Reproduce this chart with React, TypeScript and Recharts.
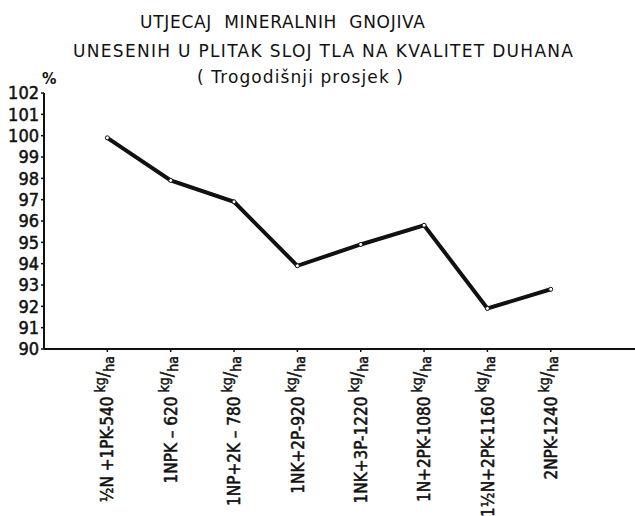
import { LineChart, Line, XAxis, YAxis } from 'recharts';

const CATEGORIES = [
  '½N +1PK-540',
  '1NPK – 620',
  '1NP+2K – 780',
  '1NK+2P-920',
  '1NK+3P-1220',
  '1N+2PK-1080',
  '1½N+2PK-1160',
  '2NPK-1240',
];
const QUALITY = [99.9, 97.9, 96.9, 93.9, 94.9, 95.8, 91.9, 92.8];
const Y_TICKS = [90, 91, 92, 93, 94, 95, 96, 97, 98, 99, 100, 101, 102];
const X_TICKS = CATEGORIES.map((_, i) => i + 1);

const TITLE_1 = 'UTJECAJ  MINERALNIH  GNOJIVA';
const TITLE_2 = 'UNESENIH U PLITAK SLOJ TLA NA KVALITET DUHANA';
const TITLE_3 = '( Trogodišnji prosjek )';

const data = CATEGORIES.map((label, i) => ({ pos: i + 1, label, value: QUALITY[i] }));

const INK = '#111111';
const NARROW = '"Liberation Sans Narrow", "DejaVu Sans Condensed", "Roboto Condensed", sans-serif';
const TITLE_FONT = '"DejaVu Sans", "Liberation Sans", sans-serif';

function CategoryTick(props: any) {
  const { x, y, payload } = props;
  const label = CATEGORIES[payload.value - 1];
  if (!label) return null;
  return (
    <g transform={`translate(${x},${y})`}>
      <text transform="rotate(-90)" textAnchor="end" dy="0.36em" x={-2}
        fill={INK} stroke={INK} strokeWidth={0.5} fontFamily={NARROW} fontSize={17}>
        {label}
        <tspan fontSize={14} dx={4} dy={-8}>kg</tspan>
        <tspan fontSize={18} dy={4}>/</tspan>
        <tspan fontSize={14} dy={5}>ha</tspan>
      </text>
    </g>
  );
}

export default function App() {
  return (
    <div style={{ position: 'absolute', left: 0, top: 0, width: 635, height: 516, background: '#fff' }}>
      <LineChart width={635} height={516} data={data} margin={{ top: 93, right: 0, bottom: 137, left: 0 }}>
        <XAxis dataKey="pos" type="number" domain={[0, 9.33]} ticks={X_TICKS} interval={0}
          tick={<CategoryTick />} tickSize={3} tickMargin={2} height={30}
          axisLine={{ stroke: INK, strokeWidth: 2 }} tickLine={{ stroke: INK, strokeWidth: 1.5 }} />
        <YAxis type="number" domain={[90, 102]} ticks={Y_TICKS} interval={0} width={44}
          tickSize={3} tickMargin={2}
          axisLine={{ stroke: INK, strokeWidth: 2 }} tickLine={{ stroke: INK, strokeWidth: 1.5 }}
          tick={{ fill: INK, stroke: INK, strokeWidth: 0.5, fontSize: 18, fontFamily: NARROW }} />
        <Line type="linear" dataKey="value" stroke={INK} strokeWidth={4}
          dot={{ r: 2, fill: '#fff', stroke: INK, strokeWidth: 1 }} isAnimationActive={false} />
      </LineChart>
      <svg width={635} height={516} style={{ position: 'absolute', left: 0, top: 0, pointerEvents: 'none' }}>
        <text x={140} y={28} textLength={285} lengthAdjust="spacing" fill={INK}
          fontFamily={TITLE_FONT} fontSize={17} style={{ whiteSpace: 'pre' }}>{TITLE_1}</text>
        <text x={73} y={57} textLength={500} lengthAdjust="spacing" fill={INK}
          fontFamily={TITLE_FONT} fontSize={17} style={{ whiteSpace: 'pre' }}>{TITLE_2}</text>
        <text x={197} y={83} textLength={206} lengthAdjust="spacing" fill={INK}
          fontFamily={TITLE_FONT} fontSize={17} style={{ whiteSpace: 'pre' }}>{TITLE_3}</text>
        <text x={42} y={84} fill={INK} fontFamily={NARROW} fontSize={16} fontWeight={700}>%</text>
      </svg>
    </div>
  );
}
